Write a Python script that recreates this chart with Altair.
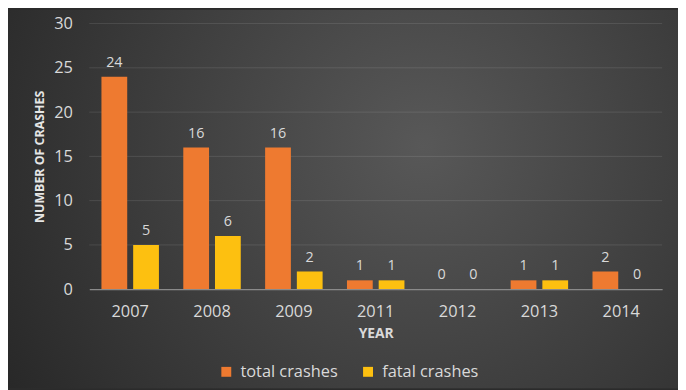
import altair as alt
import pandas as pd

years = ["2007", "2008", "2009", "2011", "2012", "2013", "2014"]
total_crashes = [24, 16, 16, 1, 0, 1, 2]
fatal_crashes = [5, 6, 2, 1, 0, 1, 0]
series = ["total crashes", "fatal crashes"]
colors = ["#ee7a30", "#fdc010"]
y_ticks = [0, 5, 10, 15, 20, 25, 30]
grid_ticks = [5, 10, 15, 20, 25, 30]

rows = []
for i, yr in enumerate(years):
    rows.append({"year": yr, "series": series[0], "value": total_crashes[i]})
    rows.append({"year": yr, "series": series[1], "value": fatal_crashes[i]})
df = pd.DataFrame(rows)
grid_df = pd.DataFrame({"value": grid_ticks})

FONT = "Open Sans"
TXT = "#d9d9d9"
W, H = 578, 268
PL, PT, PR, PB = 82, 14, 16, 100

bg = alt.Chart(alt.Data(values=[{"k": 1}])).mark_rect(
    fill=alt.Gradient(
        gradient="radial",
        x1=0.62, y1=0.42, r1=0,
        x2=0.62, y2=0.42, r2=0.75,
        stops=[alt.GradientStop(offset=0, color="#585858"),
               alt.GradientStop(offset=1, color="#262626")],
    )
).encode(
    x=alt.value(-PL), x2=alt.value(W + PR),
    y=alt.value(-PT), y2=alt.value(H + PB),
)

y_scale = alt.Scale(domain=[0, 30], nice=False)
y_axis = alt.Axis(title="NUMBER OF CRASHES", values=y_ticks, ticks=False,
                  domain=False, labelPadding=17, labelFontSize=16.5,
                  labelColor=TXT, labelFont=FONT, titleFont=FONT,
                  titleFontSize=12.5, titleFontWeight="bold",
                  titleColor="#e6e6e6", titlePadding=7,
                  grid=False, zindex=1)

grid = alt.Chart(grid_df).mark_rule(color="#ffffff", opacity=0.11, strokeWidth=1).encode(
    y=alt.Y("value:Q", scale=y_scale, axis=y_axis),
)

x_enc = alt.X("year:N", sort=years,
              scale=alt.Scale(paddingInner=0, paddingOuter=0),
              axis=alt.Axis(title="YEAR", labelAngle=0, ticks=False,
                            domain=True, domainColor="#8a8a8a", domainWidth=1.2,
                            labelPadding=15, labelFontSize=16.5, labelColor=TXT,
                            labelFont=FONT, titleFont=FONT, titleFontSize=14,
                            titleFontWeight="bold", titleColor=TXT, titlePadding=6,
                            grid=False, zindex=1))
xo_enc = alt.XOffset("series:N", sort=series,
                     scale=alt.Scale(paddingInner=0.1875, paddingOuter=0.384))

bars = alt.Chart(df).mark_bar().encode(
    x=x_enc,
    xOffset=xo_enc,
    y=alt.Y("value:Q", scale=y_scale, axis=y_axis),
    color=alt.Color("series:N", sort=series,
                    scale=alt.Scale(domain=series, range=colors),
                    legend=alt.Legend(title=None, orient="none", direction="horizontal",
                                      legendX=130, legendY=343, symbolType="square",
                                      symbolSize=100, symbolStrokeWidth=0,
                                      labelFontSize=16.5, labelColor=TXT, labelFont=FONT,
                                      labelOffset=6, columnPadding=22)),
)

labels = alt.Chart(df).mark_text(
    baseline="bottom", dy=-7, fontSize=14.5, font=FONT, color=TXT
).encode(
    x=alt.X("year:N", sort=years),
    xOffset=alt.XOffset("series:N", sort=series),
    y=alt.Y("value:Q", scale=y_scale),
    text=alt.Text("value:Q"),
)

chart = alt.layer(bg, grid, bars, labels).properties(
    width=W, height=H,
    autosize=alt.AutoSizeParams(type="none"),
    padding={"left": PL, "top": PT, "right": PR, "bottom": PB},
    background="#2b2b2b",
).configure_view(stroke=None)

chart.save("out.html", embed_options={"renderer": "svg", "actions": False})
